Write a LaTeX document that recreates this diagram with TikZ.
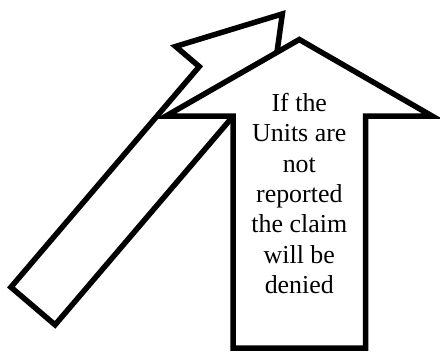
\documentclass[tikz,border=0pt]{standalone}
\usepackage{fontspec}
\setmainfont{Liberation Serif}
\usepackage{tikz}

\begin{document}
\begin{tikzpicture}[x=1bp, y=-1bp,
    arrowshape/.style={draw=black, fill=white, line width=5.5bp, line join=miter}]
  \useasboundingbox (0,0) rectangle (440,351);
  \draw[arrowshape]
      (10.94,287.17) -- (199.24,66.57) -- (175.66,46.44) -- (282.33,13.93)
      -- (266.94,124.36) -- (243.36,104.23) -- (55.06,324.83) -- cycle;
  \draw[arrowshape]
      (299.3,39.5) -- (432,116) -- (365.5,116) -- (365.5,348)
      -- (233,348) -- (233,116) -- (166,116) -- cycle;
  \node[align=center, font=\fontsize{26}{30.5}\selectfont] (claimtext) at (299.3,193.5)
      {If the\\Units are\\not\\reported\\the claim\\will be\\denied};
\end{tikzpicture}
\end{document}
